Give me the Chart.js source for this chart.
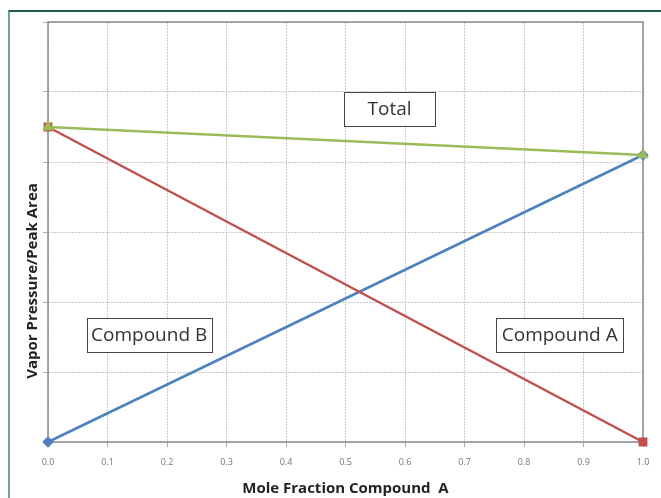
<!DOCTYPE html>
<html>
<head>
<meta charset="utf-8">
<script src="https://cdn.jsdelivr.net/npm/chart.js@4/dist/chart.umd.min.js"></script>
<style>
  html, body { margin: 0; padding: 0; background: #fff; }
  #wrap { position: relative; width: 661px; height: 498px; }
  #frame { position: absolute; left: 8px; top: 10px; right: 0; bottom: 0;
           border-top: 2px solid #1f5d43; border-left: 2px solid #6ba98b; }
  canvas { position: absolute; left: 0; top: 0; }
</style>
</head>
<body>
<div id="wrap">
  <div id="frame"></div>
  <canvas id="grafico" width="661" height="498"></canvas>
</div>
<script>
// mole fraction of A (x) and the vapor pressure of each line
const fraccionA = [0.0, 1.0];
const compuestoA = [0, 4.1];
const compuestoB = [4.5, 0];
const total = [4.5, 4.1];

// text boxes on the plot
const etiquetas = [
    { texto: "Total", x: 0.574, y: 4.76, ancho: 91 },
    { texto: "Compound B", x: 0.17, y: 1.53, ancho: 125 },
    { texto: "Compound A", x: 0.86, y: 1.53, ancho: 127 }
];

function puntos(ys) {
    return fraccionA.map((x, i) => ({ x: x, y: ys[i] }));
}

const cajas = {
    id: "cajas",
    beforeDatasetsDraw(chart) {
        const { ctx, chartArea: a } = chart;
        ctx.save();
        ctx.strokeStyle = "#8a8a8a";
        ctx.lineWidth = 1.5;
        ctx.strokeRect(a.left, a.top, a.right - a.left, a.bottom - a.top);
        ctx.restore();
    },
    afterDraw(chart) {
        const { ctx, scales } = chart;
        ctx.save();
        ctx.font = "19px 'Open Sans'";
        ctx.textAlign = "center";
        ctx.textBaseline = "middle";
        etiquetas.forEach(e => {
            const cx = scales.x.getPixelForValue(e.x);
            const cy = scales.y.getPixelForValue(e.y);
            const alto = 34;
            ctx.fillStyle = "#fff";
            ctx.fillRect(cx - e.ancho / 2, cy - alto / 2, e.ancho, alto);
            ctx.strokeStyle = "#444";
            ctx.lineWidth = 1;
            ctx.strokeRect(Math.round(cx - e.ancho / 2) + 0.5, Math.round(cy - alto / 2) + 0.5, e.ancho, alto);
            ctx.fillStyle = "#333";
            ctx.fillText(e.texto, cx, cy + 1);
        });

        // y axis title
        ctx.translate(33, 281);
        ctx.rotate(-Math.PI / 2);
        ctx.font = "bold 15px 'Open Sans'";
        ctx.fillStyle = "#222";
        ctx.fillText("Vapor Pressure/Peak Area", 0, 0);
        ctx.restore();
    }
};

const ctx = document.getElementById("grafico").getContext("2d");
new Chart(ctx, {
    type: "scatter",
    data: {
        datasets: [
            {
                label: "Total",
                data: puntos(total),
                showLine: true,
                clip: false,
                borderColor: "#9bbb59",
                backgroundColor: "#9bbb59",
                borderWidth: 2.5,
                pointStyle: "triangle",
                pointRadius: 4
            },
            {
                label: "Compound B",
                data: puntos(compuestoB),
                showLine: true,
                clip: false,
                borderColor: "#c0504d",
                backgroundColor: "#c0504d",
                borderWidth: 2.5,
                pointStyle: "rect",
                pointRadius: 4.5
            },
            {
                label: "Compound A",
                data: puntos(compuestoA),
                showLine: true,
                clip: false,
                borderColor: "#4f81bd",
                backgroundColor: "#4f81bd",
                borderWidth: 2.5,
                pointStyle: "rectRot",
                pointRadius: 4
            }
        ]
    },
    options: {
        responsive: false,
        animation: false,
        layout: { padding: { top: 22, right: 18, left: 0, bottom: 0 } },
        plugins: { legend: { display: false }, tooltip: { enabled: false } },
        scales: {
            x: {
                type: "linear",
                min: 0,
                max: 1,
                afterFit(scale) { scale.height = 56; },
                ticks: {
                    stepSize: 0.1,
                    padding: 10,
                    color: "#777",
                    font: { family: "'Open Sans'", size: 9 },
                    callback: v => v.toFixed(1)
                },
                grid: { color: "#cacaca", tickLength: 5, tickColor: "#aaa" },
                border: { display: false, dash: [2, 1] },
                title: {
                    display: true,
                    text: "Mole Fraction Compound  A",
                    color: "#222",
                    font: { family: "'Open Sans'", size: 15, weight: "bold" },
                    padding: { top: 0, bottom: 0 }
                }
            },
            y: {
                min: 0,
                max: 6,
                afterFit(scale) { scale.width = 48; },
                ticks: { stepSize: 1, display: false },
                grid: { color: "#cacaca", tickLength: 5, tickColor: "#aaa" },
                border: { display: false, dash: [2, 1] }
            }
        }
    },
    plugins: [cajas]
});
</script>
</body>
</html>
